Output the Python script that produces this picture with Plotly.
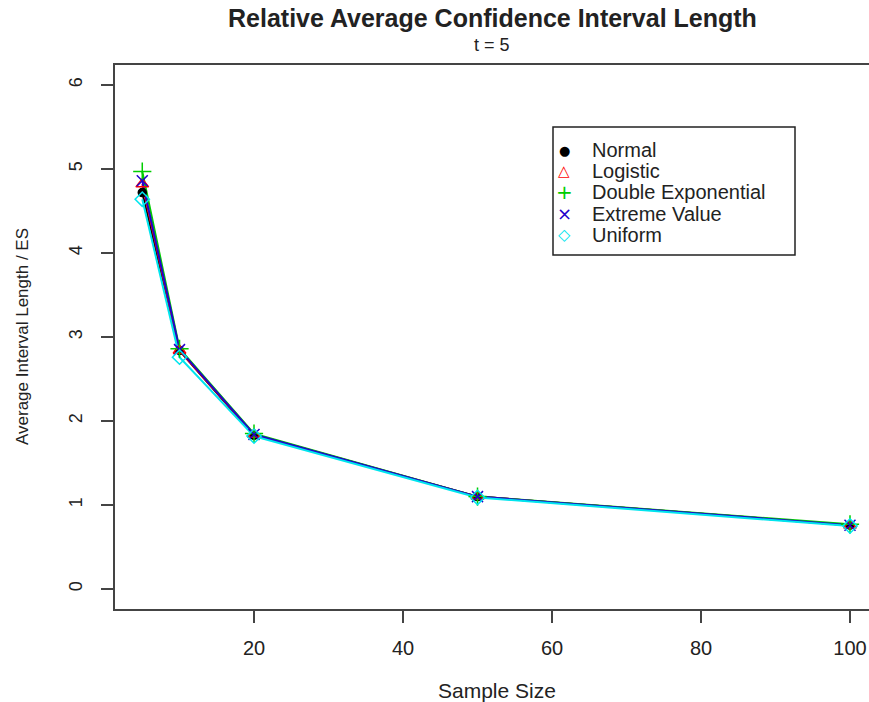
import plotly.graph_objects as go

sample_size = [5, 10, 20, 50, 100]
normal = [4.72, 2.84, 1.83, 1.10, 0.76]
logistic = [4.82, 2.84, 1.84, 1.10, 0.76]
double_exp = [4.97, 2.86, 1.85, 1.10, 0.77]
extreme = [4.86, 2.85, 1.84, 1.10, 0.76]
uniform = [4.64, 2.76, 1.82, 1.09, 0.75]

series_names = ["Normal", "Logistic", "Double Exponential", "Extreme Value", "Uniform"]
series_vals = [normal, logistic, double_exp, extreme, uniform]
colors = ["#000000", "#FF0000", "#00CD00", "#2200CC", "#00E5EE"]
symbols = ["circle", "triangle-up-open", "cross-thin-open", "x-thin-open", "diamond-open"]
legend_glyphs = ["●", "△", "+", "×", "◇"]
legend_glyph_sizes = [13, 15, 20, 18, 16]
sizes = [8, 11, 13, 11, 11]

x_ticks = [20, 40, 60, 80, 100]
y_ticks = [0, 1, 2, 3, 4, 5, 6]

FONT = "Liberation Sans, Arial, sans-serif"

fig = go.Figure()
for name, vals, c in zip(series_names, series_vals, colors):
    fig.add_trace(go.Scatter(x=sample_size, y=vals, mode="lines",
                             line=dict(color=c, width=2), showlegend=False,
                             hoverinfo="skip"))
for name, vals, c, s, sz in zip(series_names, series_vals, colors, symbols, sizes):
    fig.add_trace(go.Scatter(x=sample_size, y=vals, mode="markers", name=name,
                             showlegend=False,
                             marker=dict(color=c, symbol=s, size=sz,
                                         line=dict(color=c, width=1.5))))

# plot-area pixel helpers (plot area: x 115..869, y 65..609)
def px_x(p):
    return (p - 115) / 754.0

def px_y(p):
    return (609 - p) / 544.0

annotations = [
    dict(text="<b>Relative Average Confidence Interval Length</b>", xref="paper", yref="paper",
         x=0.5, y=px_y(18), xanchor="center", yanchor="middle", showarrow=False,
         font=dict(size=25, color="#222")),
    dict(text="t = 5", xref="paper", yref="paper", x=0.5, y=px_y(45),
         xanchor="center", yanchor="middle", showarrow=False,
         font=dict(size=18, color="#222")),
    dict(text="Sample Size", xref="paper", yref="paper", x=px_x(497), y=px_y(690),
         xanchor="center", yanchor="middle", showarrow=False,
         font=dict(size=21, color="#222")),
    dict(text="Average Interval Length / ES", xref="paper", yref="paper",
         x=px_x(22), y=0.5, xanchor="center", yanchor="middle", showarrow=False,
         textangle=-90, font=dict(size=17, color="#222")),
]

# legend (drawn as a boxed key, like R's legend())
for i, (name, c, g, gs) in enumerate(zip(series_names, colors, legend_glyphs, legend_glyph_sizes)):
    row = 150 + 21.2 * i
    annotations.append(dict(text=g, xref="paper", yref="paper", x=px_x(564), y=px_y(row),
                            xanchor="center", yanchor="middle", showarrow=False,
                            font=dict(size=gs, color=c, family="DejaVu Sans")))
    annotations.append(dict(text=name, xref="paper", yref="paper", x=px_x(590), y=px_y(row),
                            xanchor="left", yanchor="middle", showarrow=False,
                            font=dict(size=20, color="#222")))

fig.update_layout(
    width=869, height=702,
    margin=dict(l=115, r=0, t=65, b=93),
    plot_bgcolor="white", paper_bgcolor="white",
    font=dict(family=FONT, size=17, color="#222"),
    showlegend=False,
    xaxis=dict(range=[1.34, 102.55], tickvals=x_ticks, ticktext=[str(v) for v in x_ticks],
               showgrid=False, zeroline=False, showline=True, mirror=True,
               linecolor="#444", linewidth=1.5, ticks="outside", ticklen=12,
               tickcolor="#444", tickwidth=1.5, ticklabelstandoff=8,
               tickfont=dict(size=20, color="#222")),
    yaxis=dict(range=[-0.238, 6.238], tickvals=y_ticks, ticktext=[str(v) for v in y_ticks],
               showgrid=False, zeroline=False, showline=True, mirror=False,
               linecolor="#444", linewidth=1.5, ticks="outside", ticklen=12,
               tickcolor="#444", tickwidth=1.5, tickangle=-90, ticklabelstandoff=12,
               tickfont=dict(size=18, color="#222")),
    shapes=[dict(type="rect", xref="paper", yref="paper",
                 x0=px_x(553), x1=px_x(795), y0=px_y(255), y1=px_y(127),
                 line=dict(color="#222", width=1.5), fillcolor="rgba(0,0,0,0)")],
    annotations=annotations,
)

fig.write_html("out.html")
